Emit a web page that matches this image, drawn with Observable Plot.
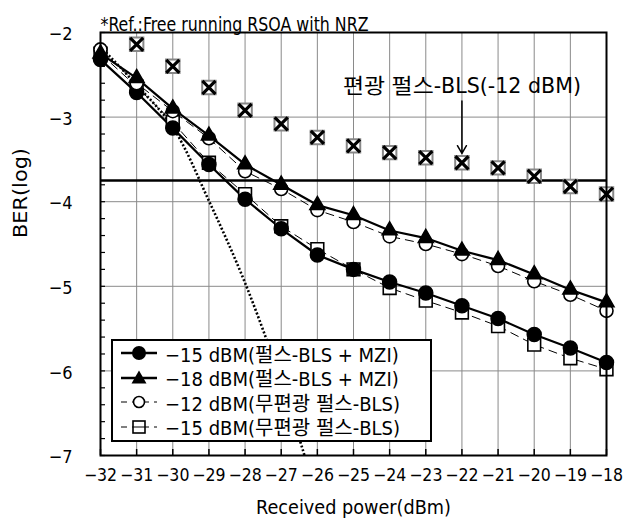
<!DOCTYPE html>
<html><head><meta charset="utf-8">
<script src="https://cdn.jsdelivr.net/npm/d3@7"></script>
<script src="https://cdn.jsdelivr.net/npm/@observablehq/plot@0.6"></script>
<style>
body{margin:0;background:#fff;}
#wrap{position:relative;width:624px;height:532px;}
#legend{position:absolute;left:111px;top:339px;width:317px;height:99px;border:2px solid #000;background:#fff;
 font-family:"DejaVu Sans Condensed","Noto Sans CJK KR",sans-serif;font-stretch:condensed;font-size:20px;color:#000;}
.row{height:24.5px;display:flex;align-items:center;white-space:nowrap;}
.row svg{flex:none;margin-left:6px;margin-right:6px;}
</style></head>
<body><div id="wrap"></div>
<script>
const power = [-32,-31,-30,-29,-28,-27,-26,-25,-24,-23,-22,-21,-20,-19,-18];
const mzi15 = [-2.32,-2.71,-3.13,-3.56,-3.97,-4.32,-4.63,-4.80,-4.95,-5.08,-5.23,-5.38,-5.57,-5.73,-5.90];
const mzi18 = [-2.25,-2.54,-2.90,-3.22,-3.56,-3.80,-4.04,-4.16,-4.34,-4.43,-4.58,-4.69,-4.86,-5.04,-5.19];
const unpol12 = [-2.20,-2.60,-2.93,-3.25,-3.64,-3.85,-4.10,-4.24,-4.41,-4.50,-4.62,-4.76,-4.94,-5.10,-5.29];
const unpol15 = [-2.25,-2.64,-3.06,-3.54,-3.91,-4.29,-4.56,-4.80,-5.02,-5.17,-5.31,-5.47,-5.69,-5.85,-5.98];
const polPower = [-31,-30,-29,-28,-27,-26,-25,-24,-23,-22,-21,-20,-19,-18];
const pol12 = [-2.14,-2.40,-2.65,-2.92,-3.08,-3.24,-3.34,-3.42,-3.48,-3.54,-3.60,-3.70,-3.82,-3.91];
const refPower = [-32,-31,-30,-29,-28,-27,-26];
const refBer = [-2.17,-2.62,-3.12,-3.99,-4.96,-6.13,-7.5];
const threshold = [-3.75];
const xTicks = [-32,-31,-30,-29,-28,-27,-26,-25,-24,-23,-22,-21,-20,-19,-18];
const yTicks = [-7,-6,-5,-4,-3,-2];
const titleText = "*Ref.:Free running RSOA with NRZ";
const annText = "편광 펄스-BLS(-12 dBM)";
const annPos = {x: -22, y: -2.63, y1: -2.81, y2: -3.43};
const legendLabels = ["−15 dBM(펄스-BLS + MZI)","−18 dBM(펄스-BLS + MZI)","−12 dBM(무편광 펄스-BLS)","−15 dBM(무편광 펄스-BLS)"];

const pts = (xs, ys) => xs.map((x,i)=>({x, y: ys[i]}));
const latin = '"DejaVu Sans Condensed","Noto Sans CJK KR",sans-serif';

const chart = Plot.plot({
  width: 624, height: 532,
  marginLeft: 100, marginRight: 18, marginTop: 32, marginBottom: 77,
  style: {fontFamily: latin, fontSize: "18px", background: "#fff", color: "#000", fontStretch: "condensed"},
  x: {domain: [-32,-18]},
  y: {domain: [-7,-2]},
  marks: [
    Plot.gridX(xTicks.slice(1,-1), {stroke: "#8a8a8a", strokeOpacity: 1, strokeWidth: 1}),
    Plot.gridY(yTicks.slice(1,-1), {stroke: "#8a8a8a", strokeOpacity: 1, strokeWidth: 1}),
    Plot.axisX({ticks: xTicks, tickSize: 0, tickPadding: 13, fontSize: 17.5, tickFormat: d => "−" + Math.abs(d), label: null}),
    Plot.axisX({ticks: xTicks, tickSize: -6, text: null, label: null, strokeWidth: 1.5}),
    Plot.axisY({ticks: yTicks, tickSize: 0, tickPadding: 28, dy: 2, fontSize: 18, tickFormat: d => "−" + Math.abs(d), label: null}),
    Plot.axisY({ticks: d3.range(-7, -1.99, 0.2), tickSize: -5, text: null, label: null, strokeWidth: 1.2}),
    Plot.ruleY(threshold, {strokeWidth: 2.5, stroke: "#000"}),
    Plot.line(pts(refPower, refBer), {x: "x", y: "y", curve: "catmull-rom", stroke: "#000", strokeWidth: 2.6, strokeDasharray: "2,2", strokeLinecap: "butt", clip: true}),
    Plot.line(pts(power, unpol15), {x: "x", y: "y", stroke: "#000", strokeWidth: 1, strokeDasharray: "9,5", strokeLinecap: "butt"}),
    Plot.line(pts(power, unpol12), {x: "x", y: "y", stroke: "#000", strokeWidth: 1, strokeDasharray: "9,5", strokeLinecap: "butt"}),
    Plot.line(pts(power, mzi15), {x: "x", y: "y", stroke: "#000", strokeWidth: 2.2}),
    Plot.line(pts(power, mzi18), {x: "x", y: "y", stroke: "#000", strokeWidth: 2.2}),
    Plot.dot(pts(power, unpol15), {x: "x", y: "y", symbol: "square", r: 7.2, fill: "#fff", stroke: "#000", strokeWidth: 1.6}),
    Plot.dot(pts(power, mzi15), {x: "x", y: "y", symbol: "circle", r: 7, fill: "#000", stroke: "#000"}),
    Plot.dot(pts(power, unpol12), {x: "x", y: "y", symbol: "circle", r: 6.5, fill: "#fff", stroke: "#000", strokeWidth: 1.6}),
    Plot.dot(pts(power, mzi18), {x: "x", y: "y", symbol: "triangle", r: 5.6, fill: "#000", stroke: "#000"}),
    Plot.dot(pts(polPower, pol12), {x: "x", y: "y", symbol: "square", r: 7.6, fill: "#fff", stroke: "#888", strokeWidth: 2}),
    Plot.dot(pts(polPower, pol12), {x: "x", y: "y", symbol: "times", r: 6, stroke: "#000", strokeWidth: 3.2}),
    Plot.frame({stroke: "#000", strokeWidth: 2}),
    Plot.arrow([annPos], {x1: "x", y1: "y1", x2: "x", y2: "y2", stroke: "#000", strokeWidth: 1.5, headLength: 9}),
    Plot.text([annText], {x: () => annPos.x, y: () => annPos.y, text: d => d, fontSize: 21, textAnchor: "middle"}),
    Plot.text([titleText], {frameAnchor: "top-left", dy: -16, dx: 0, text: d => d, fontSize: 20, textAnchor: "start"}),
    Plot.text(["BER(log)"], {frameAnchor: "left", dx: -80, dy: -6, rotate: -90, text: d => d, fontSize: 20}),
    Plot.text(["Received power(dBm)"], {frameAnchor: "bottom", dy: 58, text: d => d, fontSize: 20})
  ]
});
const wrap = document.getElementById("wrap");
wrap.appendChild(chart);
// fit text widths to reference proportions
const fit = {[titleText]: 268, [annText]: 238, "BER(log)": 90, "Received power(dBm)": 195};
d3.select(chart).selectAll("text").each(function(){
  const w = fit[this.textContent];
  if (w) { this.setAttribute("textLength", w); this.setAttribute("lengthAdjust", "spacingAndGlyphs"); }
});

const sym = [
  `<line x1="2" x2="38" y1="10" y2="10" stroke="#000" stroke-width="2.5"/><circle cx="20" cy="10" r="7" fill="#000"/>`,
  `<line x1="2" x2="38" y1="10" y2="10" stroke="#000" stroke-width="2.5"/><path d="M20,2.5 L27.5,15.5 L12.5,15.5Z" fill="#000"/>`,
  `<line x1="2" x2="38" y1="10" y2="10" stroke="#000" stroke-width="1" stroke-dasharray="6,5"/><circle cx="20" cy="10" r="5.5" fill="#fff" stroke="#000" stroke-width="1.6"/>`,
  `<line x1="2" x2="38" y1="10" y2="10" stroke="#000" stroke-width="1" stroke-dasharray="6,5"/><rect x="14" y="4" width="12" height="12" fill="#fff" stroke="#000" stroke-width="1.6"/><line x1="14" x2="26" y1="10" y2="10" stroke="#000" stroke-width="1"/>`
];
const lg = document.createElement("div");
lg.id = "legend";
lg.innerHTML = legendLabels.map((t,i)=>`<div class="row"><svg width="40" height="20">${sym[i]}</svg><span>${t}</span></div>`).join("");
wrap.appendChild(lg);
</script></body></html>
